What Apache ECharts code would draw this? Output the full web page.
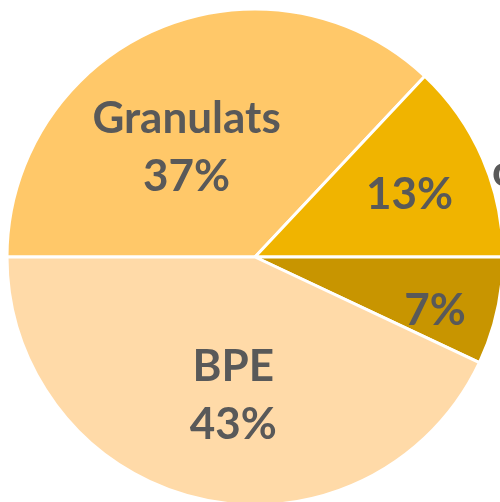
<!DOCTYPE html>
<html>
<head>
<meta charset="utf-8">
<script src="https://cdn.jsdelivr.net/npm/echarts@6/dist/echarts.min.js"></script>
<style>
  html, body { margin: 0; padding: 0; background: #fff; }
  #chart { width: 500px; height: 502px; }
</style>
</head>
<body>
<div id="chart"></div>
<script>
// parts of the total, in percent
const categories = ['Granulats', 'Ciment', 'Adjuvants', 'BPE'];
const values = [37, 13, 7, 43];
const showName = [true, false, false, true];
const colors = ['#FFC869', '#F0B400', '#C89500', '#FFDAA8'];

// nudges so the labels sit where the original put them
const labelShift = [[-18, 7], [38, -12], [56, 26], [6, 15]];

const chart = echarts.init(document.getElementById('chart'));
const option = {
    backgroundColor: '#ffffff',
    animation: false,
    graphic: [{
        type: 'text',
        left: 492,
        top: 150,
        style: {
            text: 'ciment',
            fill: '#595959',
            font: 'bold 44px Lato'
        }
    }],
    series: [{
        type: 'pie',
        center: [255, 257],
        radius: [0, 248],
        startAngle: 180,
        clockwise: true,
        avoidLabelOverlap: false,
        itemStyle: {
            borderColor: '#ffffff',
            borderWidth: 3
        },
        label: {
            show: true,
            position: 'inside',
            color: '#595959',
            fontFamily: 'Lato',
            fontWeight: 'bold',
            fontSize: 44,
            lineHeight: 58
        },
        labelLine: { show: false },
        labelLayout: function (params) {
            const s = labelShift[params.dataIndex];
            return { dx: s[0], dy: s[1] };
        },
        data: categories.map(function (name, i) {
            return {
                name: name,
                value: values[i],
                itemStyle: { color: colors[i] },
                label: { formatter: showName[i] ? '{b}\n{c}%' : '{c}%' }
            };
        })
    }]
};
chart.setOption(option);
</script>
</body>
</html>
